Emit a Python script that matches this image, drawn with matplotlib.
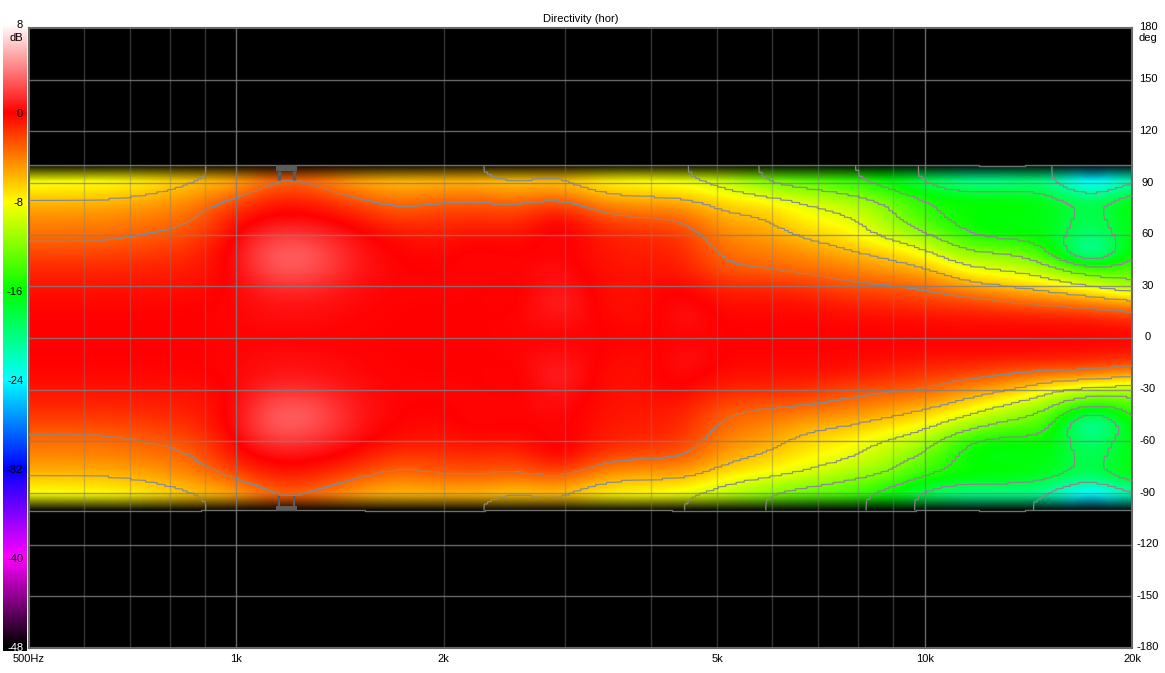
#! /usr/bin/env python

import matplotlib
matplotlib.use("Agg")
import matplotlib.pyplot as plt
import matplotlib.image as mimage
from matplotlib.colors import LinearSegmentedColormap
from matplotlib.transforms import Affine2D
import numpy as np

plt.rcParams["font.family"] = ["Liberation Sans", "DejaVu Sans"]
plt.rcParams["font.size"] = 8

# frequency bins, equal steps on the log axis
freq_hz = [500, 573, 657, 754, 864, 991, 1136, 1302, 1493, 1711, 1962, 2249, 2578, 2956,
           3389, 3885, 4454, 5106, 5853, 6710, 7692, 8819, 10110, 11590, 13287, 15232, 17462, 20000]
angle_deg = [0, 10, 20, 30, 40, 50, 60, 70, 80, 90]

level_upper = [
    [0, 0, -.2, -.6, -1.2, -2.3, -3.5, -4.4, -5.9, -8.5],
    [0, 0, -.2, -.6, -1.2, -2.3, -3.5, -4.4, -5.9, -8.3],
    [0, 0, -.2, -.6, -1.2, -2.2, -3.4, -4.3, -5.8, -8.2],
    [0, 0, -.2, -.5, -1.0, -1.9, -2.9, -3.9, -5.2, -7.4],
    [0, 0, -.1, -.5, -.9, -1.4, -2.4, -3.4, -4.4, -6.2],
    [0, .1, .1, 0, 0, .2, -.2, -.7, -2.7, -5.6],
    [0, .4, .6, 1.6, 3.0, 3.3, 2.0, .3, -.7, -2.9],
    [0, .3, .6, 1.4, 2.6, 2.8, 1.5, .2, -1.1, -3.4],
    [0, .1, .2, .4, .7, .7, .3, -.6, -2.6, -5.2],
    [0, 0, 0, .1, 0, -.1, -.5, -2.2, -3.8, -6],
    [0, 0, 0, .1, -.1, -.3, -.8, -1.7, -3.1, -5.8],
    [0, 0, 0, .1, .2, .3, -.3, -1.5, -2.9, -5.8],
    [0, .1, -.3, -.3, .1, -.2, -.6, -1.9, -3.5, -6.6],
    [0, .6, 1.5, 1, .5, .3, .6, .3, -2.5, -5.8],
    [0, 0, -.5, -.5, -.5, -.7, -.9, -2.4, -4.9, -7.8],
    [0, -.6, -.5, -.5, -.7, -.9, -1.2, -2.9, -5.4, -8.2],
    [0, .7, .6, .1, -.7, -1, -1.6, -3.1, -5.4, -8.8],
    [0, -.1, -.5, -1.3, -2.8, -3.6, -4.4, -5.6, -7.2, -9.8],
    [0, -.1, -.4, -1.2, -3, -3.9, -4.8, -5.8, -7.6, -12.5],
    [0, -.1, -.4, -1.7, -3.5, -4.6, -6.5, -8, -9.3, -13.5],
    [0, -.2, -1, -2.5, -3.9, -5.7, -7.3, -8.6, -10.3, -14.5],
    [0, -.2, -1.2, -2.7, -4.9, -6.6, -9.8, -10.9, -12.3, -16.2],
    [0, -.3, -1.6, -3.3, -5.6, -8.6, -11.6, -14.7, -15.2, -18.5],
    [0, -.3, -1.8, -5, -8.7, -12, -15.4, -16.3, -15.4, -21],
    [0, -.3, -2.6, -6, -9.3, -12, -16.4, -16.5, -15.4, -20.5],
    [0, -.4, -3.2, -7.2, -10.9, -14.5, -16.2, -16.3, -16.5, -19.5],
    [0, -.5, -3.6, -9, -14, -25, -20.5, -19.5, -19, -27],
    [0, -1, -4.8, -11.5, -13.5, -14.5, -15.6, -16, -15.4, -21],
]

level_lower = [
    [0, 0, -.2, -.6, -1.2, -2.3, -3.5, -4.4, -5.9, -8.5],
    [0, 0, -.2, -.6, -1.2, -2.3, -3.5, -4.4, -5.9, -8.3],
    [0, 0, -.2, -.6, -1.2, -2.2, -3.4, -4.3, -5.8, -8.2],
    [0, 0, -.2, -.5, -1.0, -1.9, -2.9, -3.9, -5.2, -7.4],
    [0, 0, -.1, -.5, -.9, -1.4, -2.4, -3.4, -4.4, -6.2],
    [0, .1, .1, 0, 0, .2, -.2, -.7, -2.7, -5.6],
    [0, .4, .6, 1.6, 3.0, 3.3, 2.0, .3, -.7, -2.9],
    [0, .3, .6, 1.4, 2.6, 2.8, 1.5, .2, -1.1, -3.4],
    [0, .1, .2, .4, .7, .7, .3, -.6, -2.6, -5.2],
    [0, 0, 0, .1, 0, -.1, -.5, -2.2, -3.8, -6],
    [0, 0, 0, .1, -.1, -.3, -.8, -1.7, -3.1, -5.8],
    [0, 0, 0, .1, .2, .3, -.3, -1.5, -2.9, -5.8],
    [0, .1, -.3, -.3, .1, -.2, -.6, -1.9, -3.5, -6.6],
    [0, .6, 1.5, 1, .5, .3, .6, .3, -2.5, -5.8],
    [0, 0, -.5, -.5, -.5, -.7, -.9, -2.4, -4.9, -7.8],
    [0, -.6, -.5, -.5, -.7, -.9, -1.2, -2.9, -5.4, -8.2],
    [0, .7, .6, .1, -.7, -1, -1.6, -2.9, -5.2, -8.8],
    [0, -.1, -.4, -1.2, -2.6, -3.5, -4.3, -5.4, -7.5, -10.2],
    [0, -.1, -.4, -1.2, -2.9, -3.9, -5, -6.3, -8.4, -12],
    [0, -.1, -.4, -1.4, -3.1, -5.3, -6.8, -7.9, -9.4, -13.6],
    [0, -.1, -.6, -2.3, -3.7, -5.7, -7.6, -8.7, -11, -14],
    [0, -.2, -1, -2.6, -4.6, -6.8, -9.4, -10.4, -12.2, -16],
    [0, -.3, -1.6, -3, -5.5, -8.2, -10.5, -13, -15.2, -19],
    [0, -.3, -1.9, -4.5, -7.5, -10.6, -15.6, -16.5, -15.4, -21],
    [0, -.3, -2.7, -5.6, -9.8, -12.8, -16.4, -16.6, -15.6, -20.5],
    [0, -.4, -3.1, -8.5, -11.5, -13.5, -15.4, -16.3, -16.8, -21],
    [0, -.5, -3.2, -10, -16.5, -25, -20.5, -19.5, -19, -27],
    [0, -.8, -4.4, -10.8, -13.3, -14.8, -15.6, -16, -15.4, -21],
]

contour_db = [-21, -18, -15, -12, -9, -6, -3]

# outer edge line of the plot area
edge_hz = [500, 890, 1540, 2300, 4300, 9700, 12000, 14000, 20000]
edge_top = [100.5, 100.2, 100.3, 100.2, 100.5, 100.4, 100.0, 100.5, 100.3]
edge_bottom = [-100.3, -100.0, -100.2, -100.0, -100.3, -100.0, -100.4, -100.0, -100.4]

# small contour pile-up around 1.2 kHz at the edge
notch_hz = [1142, 1225]
notch_legs_hz = [1155, 1215]

angle_ticks = [-180, -150, -120, -90, -60, -30, 0, 30, 60, 90, 120, 150, 180]
freq_major = [1000, 10000]
freq_minor = [600, 700, 800, 900, 2000, 3000, 4000, 5000, 6000, 7000, 8000, 9000]
freq_ticks = [500, 1000, 2000, 5000, 10000, 20000]
freq_labels = ["500Hz", "1k", "2k", "5k", "10k", "20k"]
bar_labels = [0, -8, -16, -24, -32, -40, -48]

cmap = LinearSegmentedColormap.from_list("rew", [
    (0.0, "#000000"), (1 / 7, "#ff00ff"), (2 / 7, "#0000ff"), (3 / 7, "#00ffff"),
    (4 / 7, "#00ff00"), (5 / 7, "#ffff00"), (6 / 7, "#ff0000"), (1.0, "#ffffff")], N=2048)

upper = np.array(level_upper)
lower = np.array(level_lower)
# rows -90..90, then the edge rows repeated out to +-100 for the fade band
table = np.hstack([lower[:, :0:-1], upper]).T
table = np.vstack([table[0], table, table[-1]])
log_f = np.log10(freq_hz)

fig = plt.figure(figsize=(11.65, 6.73), dpi=100)
W, H = 1165.0, 673.0
ax = fig.add_axes([29 / W, 1 - 648 / H, 1103 / W, 620 / H], facecolor="black")

half_x = (log_f[-1] - log_f[0]) / (len(log_f) - 1) / 2
x0, x1 = log_f[0] - half_x, log_f[-1] + half_x
ax.imshow(table, origin="lower", aspect="auto", cmap=cmap, vmin=-48, vmax=8,
          extent=[x0, x1, -105, 105],
          interpolation="bicubic", interpolation_stage="data", zorder=1)

# fade to black past +-90 deg
fade = np.zeros((40, 1, 4))
fade[:, 0, 3] = np.linspace(0, 1, 40)
ax.imshow(fade, origin="lower", aspect="auto", extent=[log_f[0], log_f[-1], 90.5, 100.5], zorder=1.5)
ax.imshow(fade, origin="upper", aspect="auto", extent=[log_f[0], log_f[-1], -100.5, -90.5], zorder=1.5)
ax.axhspan(100.4, 180, color="black", zorder=1.6, lw=0)
ax.axhspan(-180, -100.4, color="black", zorder=1.6, lw=0)

# contour the same bicubic field the image shows, held in small blocks so the
# lines come out as stairs like the original
rows, cols = table.shape
fine = np.zeros((rows * 8, cols * 11))
mimage.resample(table, fine, Affine2D().scale(11, 8), interpolation=mimage.BICUBIC)
fine = np.repeat(np.repeat(fine, 4, axis=0), 4, axis=1)
fine_x = x0 + (np.arange(fine.shape[1]) + .5) / fine.shape[1] * (x1 - x0)
fine_y = -105 + (np.arange(fine.shape[0]) + .5) / fine.shape[0] * 210
keep = np.abs(fine_y) <= 100.3
ax.contour(fine_x, fine_y[keep], fine[keep], levels=contour_db, colors="#8a8a8a", linewidths=0.85,
           linestyles="solid", zorder=3)
ax.step(np.log10(edge_hz), edge_top, where="post", color="#707070", lw=1, zorder=3)
ax.step(np.log10(edge_hz), edge_bottom, where="post", color="#707070", lw=1, zorder=3)

ax.fill_between(np.log10(notch_hz), 97, 100.4, color="#5c5c5c", lw=0, zorder=3)
ax.vlines(np.log10(notch_legs_hz), 92, 97, color="#5c5c5c", lw=2.5, zorder=3)
ax.fill_between(np.log10(notch_hz), -100.4, -97.5, color="#5c5c5c", lw=0, zorder=3)
ax.vlines(np.log10(notch_legs_hz), -97.5, -92, color="#5c5c5c", lw=1.5, zorder=3)

for a in angle_ticks[1:-1]:
    ax.axhline(a, color="#808080", lw=1, alpha=0.8, zorder=4)
for f in freq_major:
    ax.axvline(np.log10(f), color="#808080", lw=1, alpha=0.8, zorder=4)
for f in freq_minor:
    ax.axvline(np.log10(f), color="#808080", lw=1, alpha=0.4, zorder=4)

ax.set_xlim(log_f[0], log_f[-1])
ax.set_ylim(-180, 180)
ax.set_xticks(np.log10(freq_ticks))
ax.set_xticklabels(freq_labels)
ax.set_yticks(angle_ticks)
ax.set_yticklabels([])
ax.tick_params(axis="x", length=0, pad=4)
ax.tick_params(axis="y", length=0)
for a in angle_ticks:
    ax.annotate(str(a), xy=(1, a), xycoords=("axes fraction", "data"), xytext=(16, 0.5),
                textcoords="offset pixels", ha="center", va="center", annotation_clip=False)
for s in ax.spines.values():
    s.set_color("#696969")
    s.set_linewidth(1.5)
ax.set_title("Directivity (hor)", fontsize=8, pad=4)
fig.text(1148 / W, 1 - 38 / H, "deg", ha="center", va="center")

# colour scale on the left
bar = fig.add_axes([3 / W, 1 - 651 / H, 23 / W, 625 / H])
bar.imshow(np.linspace(-48.4, 7.8, 600)[:, None], origin="lower", aspect="auto", cmap=cmap,
           vmin=-48, vmax=8, extent=[0, 1, -48.4, 7.8])
bar.set_xticks([])
bar.set_yticks([])
for s in bar.spines.values():
    s.set_visible(False)
for v in bar_labels:
    bar.text(0.88, v - .15, str(v), ha="right", va="center", color="white" if v == -48 else "black")
bar.text(0.88, 7.85, "8", ha="right", va="center", clip_on=False)
bar.text(0.88, 6.75, "dB", ha="right", va="center")

fig.savefig("out.png", dpi=100)
